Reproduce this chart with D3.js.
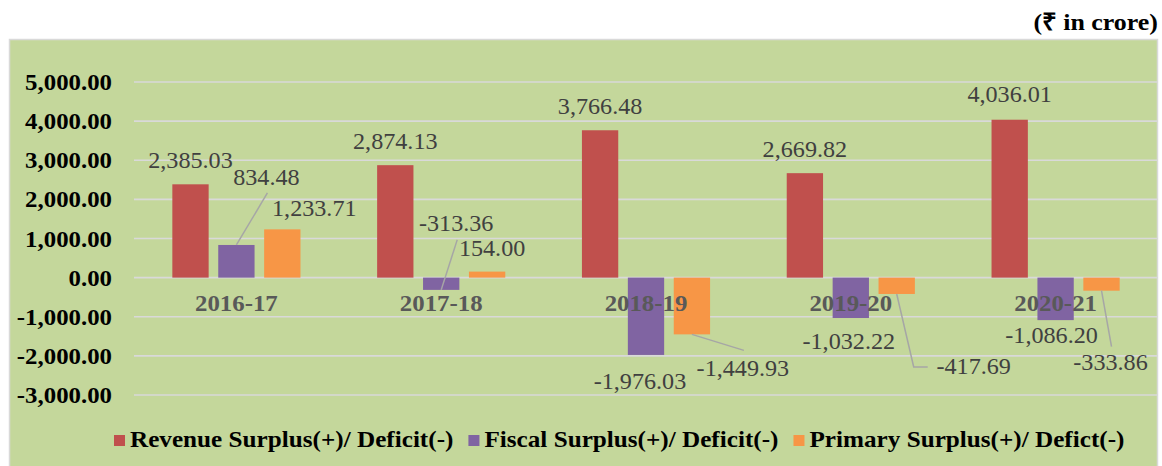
<!DOCTYPE html>
<html>
<head>
<meta charset="utf-8">
<script src="https://cdn.jsdelivr.net/npm/d3@7"></script>
<style>
  body { margin: 0; background: #fff; }
  svg { display: block; }
</style>
</head>
<body>
<div id="chart"></div>
<script>
// DATA
const categories = ["2016-17", "2017-18", "2018-19", "2019-20", "2020-21"];
const seriesNames = ["Revenue Surplus(+)/ Deficit(-)", "Fiscal Surplus(+)/ Deficit(-)", "Primary Surplus(+)/ Defict(-)"];
const revenue = [2385.03, 2874.13, 3766.48, 2669.82, 4036.01];
const fiscal = [834.48, -313.36, -1976.03, -1032.22, -1086.20];
const primary = [1233.71, 154.00, -1449.93, -417.69, -333.86];
const yTicks = [-3000, -2000, -1000, 0, 1000, 2000, 3000, 4000, 5000];
const colors = ["#C0504D", "#8064A2", "#F79646"];

// label placement (pixel offsets from bar end), leader lines as offsets too
const labelLayout = [
    [{dx: 0, dy: -16}, {dx: 0, dy: -16}, {dx: 0, dy: -16}, {dx: 0, dy: -16}, {dx: 0, dy: -18}],
    [{dx: 30, dy: -60, leader: [[0, 0], [31, -52]]},
     {dx: 15, dy: -59, leader: [[0, 0], [16, -50]]},
     {dx: -6, dy: 34}, {dx: -2, dy: 31}, {dx: -4, dy: 23}],
    [{dx: 32, dy: -13}, {dx: 5, dy: -16},
     {dx: 51, dy: 42, leader: [[0, 0], [52, 16]]},
     {dx: 77, dy: 80, leader: [[0, 0], [17, 73], [31, 73]]},
     {dx: 9, dy: 79, leader: [[0, 0], [10, 56]]}]
];

const W = 1162, H = 466;
const plot = { left: 134, right: 1158, top: 82, bottom: 395 };
const stretch = 1.08; // the source text is a little wider than Liberation Serif

// widen a text element horizontally around its anchor point
function widen(sel, sx) {
    sel.each(function () {
        const t = d3.select(this);
        const tx = +t.attr("x"), ty = +t.attr("y");
        t.attr("transform", `translate(${tx},${ty}) scale(${sx},1) translate(${-tx},${-ty})`);
    });
    return sel;
}

const svg = d3.select("#chart").append("svg")
    .attr("width", W)
    .attr("height", H)
    .style("font-family", "'Liberation Serif', 'Times New Roman', serif");

// unit note
svg.append("text")
    .attr("x", 1158)
    .attr("y", 30)
    .attr("text-anchor", "end")
    .attr("font-size", "24px")
    .attr("font-weight", "bold")
    .text("(₹ in crore)")
    .call(widen, stretch);

// panel
svg.append("rect")
    .attr("x", 9.5)
    .attr("y", 39.5)
    .attr("width", 1148)
    .attr("height", 440)
    .attr("fill", "#C4D79B")
    .attr("stroke", "#D9D9D9")
    .attr("stroke-width", 1.5);

const x = d3.scaleBand()
    .domain(categories)
    .range([plot.left, plot.right]);

const xSub = d3.scaleBand()
    .domain(seriesNames)
    .range([0, x.bandwidth()])
    .paddingInner(0.209)
    .paddingOuter(0.835);

const y = d3.scaleLinear()
    .domain([-3000, 5000])
    .range([plot.bottom, plot.top]);

const fmt = v => d3.format(",.2f")(v).replace("−", "-");

// GRIDLINES
svg.append("g")
    .selectAll("line")
    .data(yTicks)
    .join("line")
    .attr("x1", plot.left)
    .attr("x2", plot.right)
    .attr("y1", d => y(d))
    .attr("y2", d => y(d))
    .attr("stroke", "#D9D9D9")
    .attr("stroke-width", 1.6);

// Y LABELS
svg.append("g")
    .selectAll("text")
    .data(yTicks)
    .join("text")
    .attr("x", 112)
    .attr("y", d => y(d))
    .attr("dy", "0.35em")
    .attr("text-anchor", "end")
    .attr("font-size", "23px")
    .attr("font-weight", "bold")
    .attr("fill", "#000")
    .text(fmt)
    .call(widen, stretch);

const series = [revenue, fiscal, primary];

// BARS
series.forEach((vals, si) => {
    svg.append("g")
        .selectAll("rect")
        .data(vals)
        .join("rect")
        .attr("x", (d, i) => x(categories[i]) + xSub(seriesNames[si]))
        .attr("width", xSub.bandwidth())
        .attr("y", d => y(Math.max(0, d)))
        .attr("height", d => Math.abs(y(d) - y(0)))
        .attr("fill", colors[si]);
});

// CATEGORY LABELS
svg.append("g")
    .selectAll("text")
    .data(categories)
    .join("text")
    .attr("x", d => x(d) + x.bandwidth() / 2)
    .attr("y", 311)
    .attr("text-anchor", "middle")
    .attr("font-size", "23px")
    .attr("font-weight", "bold")
    .attr("fill", "#595959")
    .text(d => d)
    .call(widen, stretch);

// DATA LABELS + LEADERS
series.forEach((vals, si) => {
    vals.forEach((v, i) => {
        const bx = x(categories[i]) + xSub(seriesNames[si]) + xSub.bandwidth() / 2;
        const by = y(v);
        const lay = labelLayout[si][i];
        if (lay.leader) {
            svg.append("path")
                .attr("d", d3.line()(lay.leader.map(p => [bx + p[0], by + p[1]])))
                .attr("fill", "none")
                .attr("stroke", "#A6A6A6")
                .attr("stroke-width", 1.5);
        }
        svg.append("text")
            .attr("x", bx + lay.dx)
            .attr("y", by + lay.dy)
            .attr("text-anchor", "middle")
            .attr("font-size", "23px")
            .attr("fill", "#404040")
            .text(fmt(v))
            .call(widen, 1.05);
    });
});

// LEGEND
const legend = svg.append("g");
let lx = 114;
seriesNames.forEach((name, si) => {
    legend.append("rect")
        .attr("x", lx)
        .attr("y", 435)
        .attr("width", 11)
        .attr("height", 11)
        .attr("fill", colors[si]);
    const t = legend.append("text")
        .attr("x", lx + 16)
        .attr("y", 447)
        .attr("font-size", "23px")
        .attr("font-weight", "bold")
        .attr("fill", "#000")
        .text(name)
        .call(widen, 1.095);
    lx += 16 + t.node().getComputedTextLength() * 1.095 + 15;
});
</script>
</body>
</html>
